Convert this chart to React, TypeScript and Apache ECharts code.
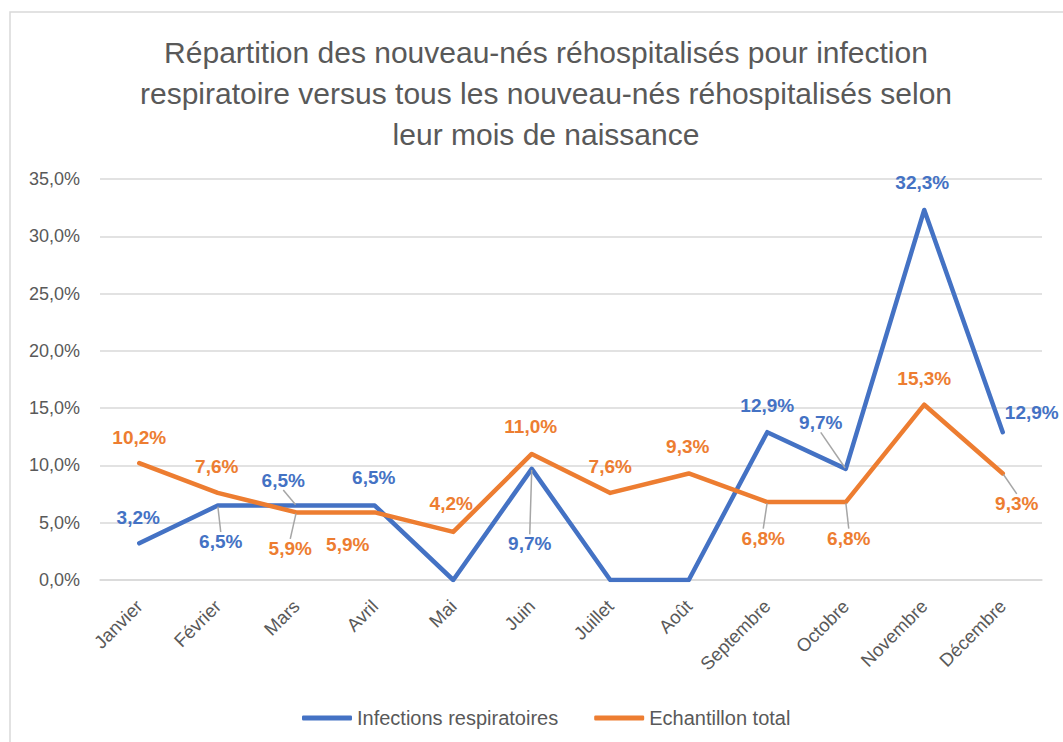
import React, { useEffect, useRef } from 'react';
import * as echarts from 'echarts';

const months = ['Janvier', 'Février', 'Mars', 'Avril', 'Mai', 'Juin', 'Juillet', 'Août', 'Septembre', 'Octobre', 'Novembre', 'Décembre'];
const infections = [3.2, 6.5, 6.5, 6.5, 0, 9.7, 0, 0, 12.9, 9.7, 32.3, 12.9];
const total = [10.2, 7.6, 5.9, 5.9, 4.2, 11.0, 7.6, 9.3, 6.8, 6.8, 15.3, 9.3];
const seriesNames = ['Infections respiratoires', 'Echantillon total'];
const titleText =
  'Répartition des nouveau-nés réhospitalisés pour infection\nrespiratoire versus tous les nouveau-nés réhospitalisés selon\nleur mois de naissance';
const yMin = 0;
const yMax = 35;
const yStep = 5;

// label placement (offset of label centre from its point), null = no label
const infectionLabelOffsets: (number[] | null)[] = [
  [-1, -26], [3, 36], [-13, -25], [-1, -28], null, [-2, 75], null, null, [0, -27], [-25, -46], [-2, -27], [29, -20],
];
const infectionLeaders = [false, true, true, false, false, true, false, false, false, true, false, false];
const totalLabelOffsets: (number[] | null)[] = [
  [0, -26], [-1, -26], [-6, 36], [-27, 32], [-2, -28], [-1, -27], [0, -26], [-1, -27], [-4, 36], [3, 36], [0, -26], [14, 30],
];
const totalLeaders = [false, false, true, false, false, false, false, false, true, true, false, true];

const BLUE = '#4472C4';
const ORANGE = '#ED7D31';
const GREY = '#595959';
const GRID = '#d9d9d9';
const FONT = 'Liberation Sans';

const pct = (v: number) => v.toFixed(1).replace('.', ',') + '%';

function buildSeries(name: string, values: number[], color: string, offsets: (number[] | null)[], leaders: boolean[]) {
  return {
    name,
    type: 'line',
    data: values.map((v, i) => ({
      value: v,
      label: { show: offsets[i] != null },
      labelLine: { show: leaders[i] },
    })),
    symbol: 'circle',
    symbolSize: 2,
    showSymbol: true,
    itemStyle: { color },
    lineStyle: { color, width: 4.5, cap: 'round', join: 'round' },
    label: {
      show: true,
      color,
      fontFamily: FONT,
      fontWeight: 'bold',
      fontSize: 19,
      formatter: (p: any) => pct(p.value),
    },
    labelLine: {
      show: false,
      length2: 0,
      lineStyle: { color: '#a6a6a6', width: 1.5 },
    },
    labelLayout: (params: any) => {
      const off = offsets[params.dataIndex];
      if (!off) return {};
      const cx = params.rect.x + params.rect.width / 2;
      const cy = params.rect.y + params.rect.height / 2;
      return { x: cx + off[0], y: cy + off[1], align: 'center', verticalAlign: 'middle' };
    },
    emphasis: { disabled: true },
  };
}

export default function App() {
  const ref = useRef<HTMLDivElement>(null);
  useEffect(() => {
    if (!ref.current) return;
    const chart = echarts.init(ref.current, undefined, { renderer: 'svg' });
    chart.setOption({
      animation: false,
      backgroundColor: '#ffffff',
      title: {
        text: titleText,
        left: 541,
        top: 27,
        textAlign: 'center',
        textStyle: { fontFamily: FONT, fontSize: 30, fontWeight: 'normal', color: GREY, lineHeight: 41 },
      },
      graphic: [
        {
          type: 'rect',
          silent: true,
          shape: { x: 10, y: 12, width: 1100, height: 800 },
          style: { fill: 'none', stroke: GRID, lineWidth: 1.5 },
        },
      ],
      legend: {
        data: seriesNames,
        left: 297,
        top: 703,
        itemWidth: 50,
        itemHeight: 5,
        itemGap: 36,
        icon: 'roundRect',
        textStyle: { fontFamily: FONT, fontSize: 20, color: GREY },
      },
      grid: { left: 100, right: 21, top: 179, bottom: 162, containLabel: false },
      xAxis: {
        type: 'category',
        data: months,
        boundaryGap: true,
        axisLine: { lineStyle: { color: GRID, width: 1.5 } },
        axisTick: { show: false },
        axisLabel: { rotate: 45, margin: 23, fontFamily: FONT, fontSize: 18.5, color: GREY, interval: 0 },
      },
      yAxis: {
        type: 'value',
        min: yMin,
        max: yMax,
        interval: yStep,
        axisLine: { show: false },
        axisTick: { show: false },
        splitLine: { lineStyle: { color: GRID, width: 1.5 } },
        axisLabel: { margin: 20, fontFamily: FONT, fontSize: 18, color: GREY, formatter: (v: number) => pct(v) },
      },
      series: [
        buildSeries(seriesNames[0], infections, BLUE, infectionLabelOffsets, infectionLeaders),
        buildSeries(seriesNames[1], total, ORANGE, totalLabelOffsets, totalLeaders),
      ],
    });
    return () => chart.dispose();
  }, []);
  return <div ref={ref} style={{ position: 'fixed', left: 0, top: 0, width: 1063, height: 742 }} />;
}
